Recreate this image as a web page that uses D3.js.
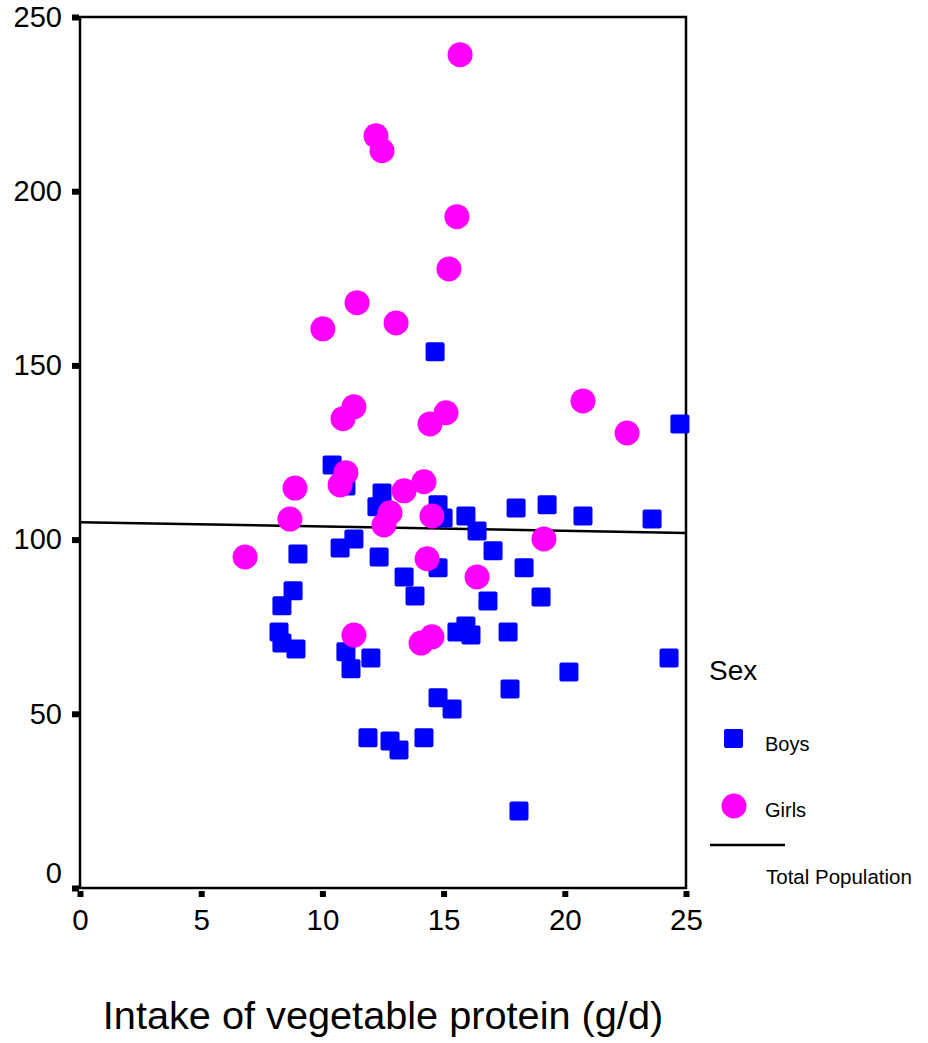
<!DOCTYPE html>
<html>
<head>
<meta charset="utf-8">
<script src="https://cdn.jsdelivr.net/npm/d3@7"></script>
<style>
  body { margin: 0; background: #fff; }
  svg { font-family: "Liberation Sans", Arial, sans-serif; }
</style>
</head>
<body>
<svg width="928" height="1043"></svg>
<script>
// values
var boysX = [14.65, 10.40, 10.97, 12.46, 12.25, 14.77, 14.98, 15.92, 16.38, 17.04, 11.30, 10.73, 8.99, 12.34, 13.37, 14.77, 8.79, 13.82, 16.83, 8.33, 24.75, 17.99, 19.27, 20.75, 23.60, 18.32, 19.02, 8.21, 8.33, 8.91, 10.97, 12.00, 11.18, 15.55, 15.92, 16.13, 17.66, 14.77, 15.35, 11.88, 12.79, 13.16, 14.19, 24.30, 20.17, 17.74, 18.11];
var boysY = [153.9, 121.4, 115.4, 113.4, 109.4, 110.0, 106.2, 106.8, 102.5, 96.8, 100.2, 97.6, 95.9, 95.0, 89.3, 91.9, 85.3, 83.8, 82.4, 81.0, 133.2, 109.1, 110.0, 106.8, 105.9, 91.9, 83.5, 73.5, 70.3, 68.6, 67.8, 66.0, 62.9, 73.5, 75.2, 72.6, 73.5, 54.6, 51.4, 43.1, 42.2, 39.6, 43.1, 66.0, 62.0, 57.1, 22.1];
var girlsX = [15.68, 12.21, 12.46, 15.55, 15.22, 11.43, 10.02, 13.04, 11.30, 10.85, 15.10, 14.44, 10.97, 10.73, 8.87, 14.19, 13.37, 8.66, 12.79, 12.54, 14.52, 6.81, 14.32, 16.38, 19.14, 20.75, 22.57, 11.30, 14.07, 14.52];
var girlsY = [239.2, 215.9, 211.6, 192.7, 177.7, 168.0, 160.5, 162.2, 138.1, 134.7, 136.4, 133.2, 119.2, 115.7, 114.8, 116.6, 114.0, 105.9, 107.7, 104.2, 106.8, 95.0, 94.5, 89.3, 100.2, 139.8, 130.6, 72.6, 70.3, 72.1];
var fitX = [0, 25];
var fitY = [105.0, 101.9];
var xTicks = [0, 5, 10, 15, 20, 25];
var yTicks = [0, 50, 100, 150, 200, 250];
var legendLabels = ["Boys", "Girls", "Total Population"];

var svg = d3.select("svg");
var mL = 80, mR = 686, mT = 17, mB = 888;

var x = d3.scaleLinear().domain([0, 25]).range([mL, mR]);
var y = d3.scaleLinear().domain([0, 250]).range([mB, mT]);

// frame
svg.append("rect")
    .attr("x", mL).attr("y", mT)
    .attr("width", mR - mL).attr("height", mB - mT)
    .attr("fill", "none").attr("stroke", "#000").attr("stroke-width", 2.5);

var yAxis = svg.append("g")
    .attr("transform", "translate(" + (mL - 1) + ",0)")
    .call(d3.axisLeft(y).tickValues(yTicks).tickSize(7).tickPadding(10));
yAxis.select(".domain").remove();
yAxis.selectAll("line").attr("stroke-width", 6);
yAxis.selectAll("text").attr("font-size", 29).attr("fill", "#000")
    .attr("dy", function(d){ return d == 0 ? "-0.2em" : "0.32em"; });

var xAxis = svg.append("g")
    .attr("transform", "translate(0," + (mB + 3) + ")")
    .call(d3.axisBottom(x).tickValues(xTicks).tickSize(6).tickPadding(12));
xAxis.select(".domain").remove();
xAxis.selectAll("line").attr("stroke-width", 6);
xAxis.selectAll("text").attr("font-size", 29.5).attr("fill", "#000");

svg.selectAll("text").attr("font-family", "Liberation Sans, Arial, sans-serif");

// fit line
svg.append("line")
    .attr("x1", x(fitX[0])).attr("y1", y(fitY[0]))
    .attr("x2", x(fitX[1])).attr("y2", y(fitY[1]))
    .attr("stroke", "#000").attr("stroke-width", 2.5);

var s = 19;
svg.selectAll("rect.boy")
    .data(d3.range(boysX.length))
    .enter().append("rect")
    .attr("class", "boy")
    .attr("x", function(i){ return x(boysX[i]) - s / 2; })
    .attr("y", function(i){ return y(boysY[i]) - s / 2; })
    .attr("width", s).attr("height", s).attr("rx", 2)
    .attr("fill", "#0000ff");

svg.selectAll("circle.girl")
    .data(d3.range(girlsX.length))
    .enter().append("circle")
    .attr("class", "girl")
    .attr("cx", function(i){ return x(girlsX[i]); })
    .attr("cy", function(i){ return y(girlsY[i]); })
    .attr("r", 12.5)
    .attr("fill", "#ff00ff");

// title
svg.append("text")
    .attr("x", (mL + mR) / 2).attr("y", 1029)
    .attr("text-anchor", "middle")
    .attr("font-size", 39.7)
    .text("Intake of vegetable protein (g/d)");

// legend
var lg = svg.append("g");
lg.append("text").attr("x", 709).attr("y", 680).attr("font-size", 28).text("Sex");
lg.append("rect").attr("x", 724).attr("y", 729).attr("width", s).attr("height", s).attr("rx", 2).attr("fill", "#0000ff");
lg.append("text").attr("x", 765).attr("y", 751).attr("font-size", 20).text(legendLabels[0]);
lg.append("circle").attr("cx", 734).attr("cy", 806).attr("r", 12.5).attr("fill", "#ff00ff");
lg.append("text").attr("x", 765).attr("y", 817).attr("font-size", 20).text(legendLabels[1]);
lg.append("line").attr("x1", 710).attr("x2", 785).attr("y1", 845).attr("y2", 845)
    .attr("stroke", "#000").attr("stroke-width", 2.5);
lg.append("text").attr("x", 766).attr("y", 884).attr("font-size", 20.5).text(legendLabels[2]);
</script>
</body>
</html>
